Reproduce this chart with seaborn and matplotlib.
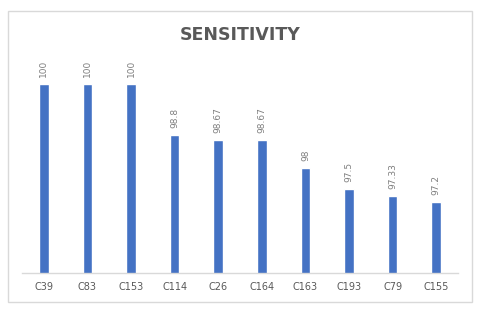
import matplotlib
matplotlib.use("Agg")
import matplotlib.pyplot as plt
import seaborn as sns
import pandas as pd
from matplotlib.patches import Rectangle

categories = ["C39", "C83", "C153", "C114", "C26", "C164", "C163", "C193", "C79", "C155"]
values = [100, 100, 100, 98.8, 98.67, 98.67, 98, 97.5, 97.33, 97.2]
value_labels = ["100", "100", "100", "98.8", "98.67", "98.67", "98", "97.5", "97.33", "97.2"]
title = "SENSITIVITY"

sns.set_theme(style="white")
plt.rcParams['font.family'] = ['DejaVu Sans']

df = pd.DataFrame({"cat": categories, "val": values})

fig = plt.figure(figsize=(4.8, 3.09), dpi=100)
fig.patch.set_facecolor("white")
ax = fig.add_axes([22/480, 1-272.7/309, 436/480, (272.7-60)/309])

sns.barplot(data=df, x="cat", y="val", color="#4472C4", width=0.22, ax=ax,
            saturation=1, order=categories)

ax.set_ylim(95.5, 100.58)
ax.set_xlim(-0.5, len(categories)-0.5)
ax.set_xlabel("")
ax.set_ylabel("")
ax.set_yticks([])
for s in ["top", "left", "right"]:
    ax.spines[s].set_visible(False)
ax.spines["bottom"].set_color("#d9d9d9")
ax.spines["bottom"].set_linewidth(1)
ax.tick_params(axis="x", length=0, pad=7, labelsize=7, labelcolor="#595959")

ax.bar_label(ax.containers[0], labels=value_labels, rotation=90, padding=5,
             fontsize=6.5, color="#7f7f7f")

fig.text(0.5, 1-35/309, title, ha="center", va="center", fontsize=12.5,
         fontweight="bold", color="#595959")

fig.patches.append(Rectangle((8/480, 1-302/309), 464/480, 291/309, transform=fig.transFigure,
                             fill=False, edgecolor="#d9d9d9", linewidth=1))

fig.savefig("out.png", dpi=100)
